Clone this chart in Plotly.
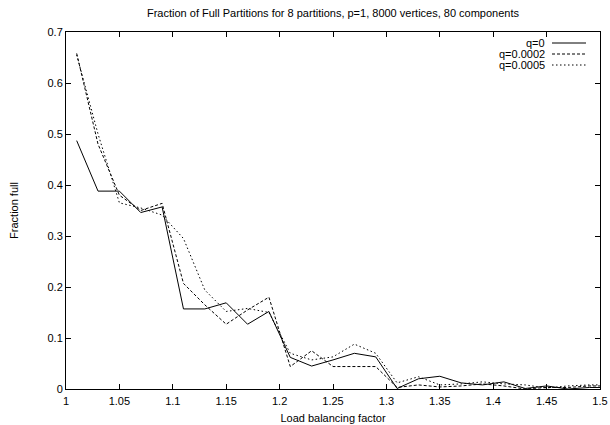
import plotly.graph_objects as go

x = [1.01, 1.03, 1.05, 1.07, 1.09, 1.11, 1.13, 1.15, 1.17, 1.19, 1.21, 1.23, 1.25,
     1.27, 1.29, 1.31, 1.33, 1.35, 1.37, 1.39, 1.41, 1.43, 1.45, 1.47, 1.49, 1.51]
q0 = [0.487, 0.388, 0.388, 0.346, 0.357, 0.157, 0.157, 0.169, 0.127, 0.152, 0.062,
      0.045, 0.057, 0.070, 0.063, 0.001, 0.020, 0.025, 0.012, 0.008, 0.014, 0.001,
      0.006, 0.000, 0.003, 0.003]
q2 = [0.658, 0.480, 0.380, 0.350, 0.364, 0.207, 0.165, 0.127, 0.155, 0.180, 0.044,
      0.075, 0.044, 0.044, 0.044, 0.003, 0.008, 0.004, 0.006, 0.010, 0.006, 0.000,
      0.003, 0.003, 0.006, 0.006]
q5 = [0.655, 0.500, 0.365, 0.355, 0.341, 0.295, 0.194, 0.152, 0.158, 0.150, 0.070,
      0.057, 0.063, 0.088, 0.070, 0.012, 0.024, 0.008, 0.010, 0.014, 0.010, 0.008,
      0.002, 0.006, 0.008, 0.008]
names = ["q=0", "q=0.0002", "q=0.0005"]
dashes = ["solid", "3px,2px", "1.5px,2.5px"]

fig = go.Figure()
for ys, nm, d in zip([q0, q2, q5], names, dashes):
    fig.add_trace(go.Scatter(x=x, y=ys, mode="lines", name=nm,
                             line=dict(color="black", width=1, dash=d)))

# gnuplot-style legend (text right, sample on the right)
W, H = 610, 425
L, R, T, B = 66, 10, 32, 36
pw, ph = W - L - R, H - T - B
rows = [43, 54, 65]
for nm, d, yy in zip(names, dashes, rows):
    yp = 1 - (yy - T) / ph
    fig.add_annotation(xref="paper", yref="paper", x=(546 - L) / pw, y=yp,
                       text=nm, showarrow=False, xanchor="right", yanchor="middle",
                       borderpad=0,
                       font=dict(size=11, color="black", family="Liberation Sans"))
    fig.add_shape(type="line", xref="paper", yref="paper",
                  x0=(552 - L) / pw, x1=(586 - L) / pw, y0=yp, y1=yp,
                  line=dict(color="black", width=1, dash=d))

axis_common = dict(showgrid=False, zeroline=False, showline=True, linecolor="black",
                   linewidth=1, mirror="ticks", ticks="inside", ticklen=5,
                   tickcolor="black", tickfont=dict(size=11, color="black"),
                   automargin=False)
fig.update_xaxes(range=[1, 1.5], dtick=0.05, tick0=1, ticklabelstandoff=2,
                 title=dict(text="Load balancing factor", font=dict(size=11, color="black"),
                            standoff=8), **axis_common)
fig.update_yaxes(range=[0, 0.7], dtick=0.1, tick0=0,
                 title=dict(text="Fraction full", font=dict(size=11, color="black"),
                            standoff=26), **axis_common)
fig.update_layout(
    width=W, height=H,
    margin=dict(l=L, r=R, t=T, b=B),
    paper_bgcolor="white", plot_bgcolor="white",
    showlegend=False,
    font=dict(family="Liberation Sans, Arial, sans-serif", size=11, color="black"),
    title=dict(text="Fraction of Full Partitions for 8 partitions, p=1, 8000 vertices, 80 components",
               x=(66 + 600) / 2 / W, xanchor="center", y=1 - 13 / H, yanchor="middle",
               font=dict(size=11, color="black")),
)
fig.write_html("out.html")
